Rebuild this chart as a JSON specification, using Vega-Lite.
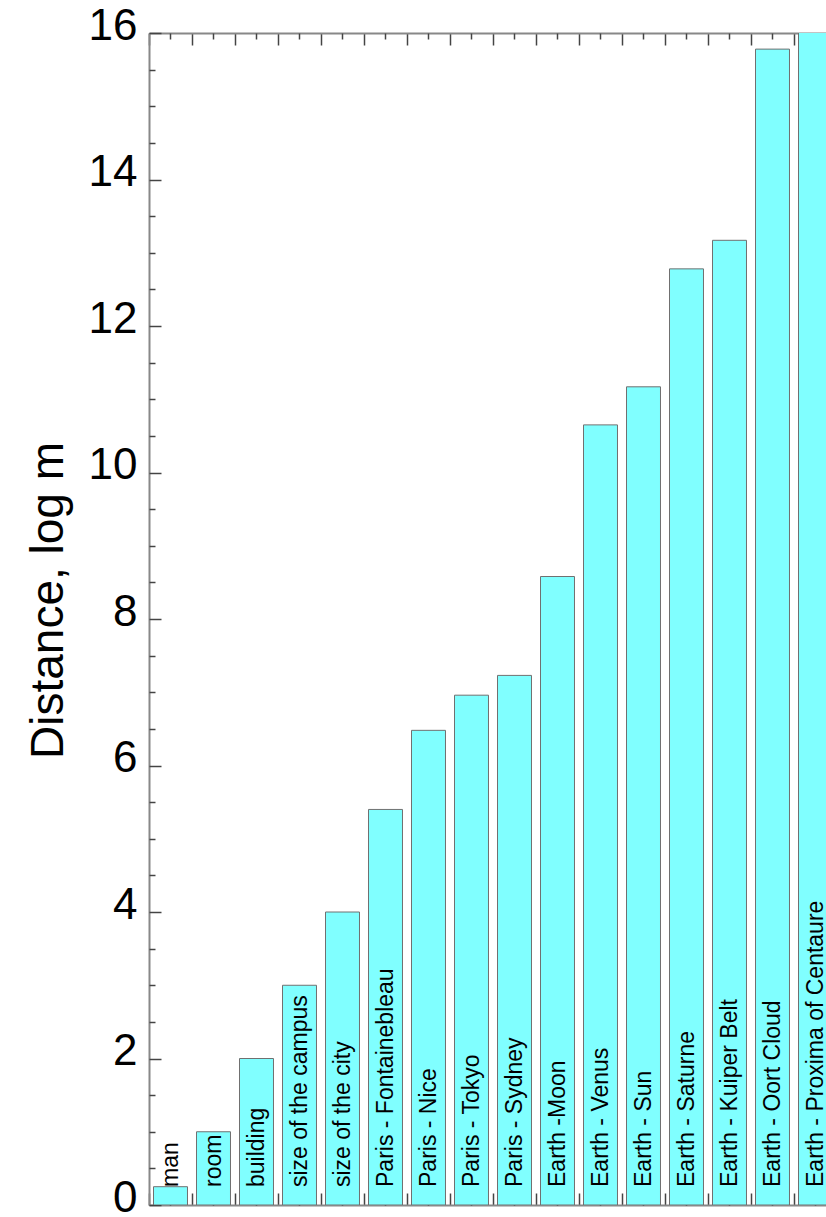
{
  "$schema": "https://vega.github.io/schema/vega-lite/v6.json",
  "width": 677,
  "height": 1172,
  "autosize": {"type": "none"},
  "padding": {"left": 149, "top": 33, "right": 0, "bottom": 12},
  "background": "white",
  "config": {
    "view": {"stroke": null},
    "font": "Liberation Sans",
    "axis": {"grid": false, "zindex": 1}
  },
  "data": {
    "values": [
      {"name": "man", "value": 0.25},
      {"name": "room", "value": 1},
      {"name": "building", "value": 2},
      {"name": "size of the campus", "value": 3},
      {"name": "size of the city", "value": 4},
      {"name": "Paris - Fontainebleau", "value": 5.4},
      {"name": "Paris - Nice", "value": 6.48},
      {"name": "Paris - Tokyo", "value": 6.96},
      {"name": "Paris - Sydney", "value": 7.23},
      {"name": "Earth -Moon", "value": 8.58},
      {"name": "Earth - Venus", "value": 10.65},
      {"name": "Earth - Sun", "value": 11.17},
      {"name": "Earth - Saturne", "value": 12.78},
      {"name": "Earth - Kuiper Belt", "value": 13.17},
      {"name": "Earth - Oort Cloud", "value": 15.78},
      {"name": "Earth - Proxima of Centaure", "value": 16.6}
    ]
  },
  "resolve": {"axis": {"x": "independent", "y": "independent"}},
  "layer": [
    {
      "mark": {"type": "bar", "width": {"band": 0.79}, "fill": "#80ffff", "stroke": "#707070", "strokeWidth": 1, "clip": true},
      "encoding": {
        "x": {"field": "name", "type": "nominal", "sort": null,
              "scale": {"range": [0, 688], "paddingInner": 0, "paddingOuter": 0},
              "axis": {"orient": "bottom", "title": null, "labels": false, "bandPosition": 0,
                       "tickSize": -12, "tickColor": "#444", "tickWidth": 1.5,
                       "domain": true, "domainColor": "#888", "domainWidth": 2}},
        "y": {"field": "value", "type": "quantitative",
              "scale": {"domain": [0, 16], "nice": false},
              "axis": {"orient": "left", "title": "Distance, log m", "titleFontSize": 46, "titleFontWeight": "normal",
                       "titleColor": "black", "titleFont": "Liberation Sans", "titlePadding": 16, "titleY": 567,
                       "values": [0, 2, 4, 6, 8, 10, 12, 14, 16], "ticks": false,
                       "labelFontSize": 44, "labelColor": "black", "labelFont": "Liberation Sans", "labelPadding": 12,
                       "labelOffset": -7, "labelFlush": false, "labelOverlap": false,
                       "domain": true, "domainColor": "#888", "domainWidth": 2}}
      }
    },
    {
      "mark": {"type": "bar", "width": {"band": 0.79}, "opacity": 0},
      "encoding": {
        "x": {"field": "name", "type": "nominal", "sort": null,
              "axis": {"orient": "bottom", "title": null, "labels": false, "bandPosition": 0.5,
                       "tickSize": -6, "tickColor": "#444", "tickWidth": 1.5, "domain": false}},
        "y": {"field": "value", "type": "quantitative",
              "axis": {"orient": "left", "title": null, "labels": false, "domain": false,
                       "values": [0, 2, 4, 6, 8, 10, 12, 14, 16],
                       "tickSize": -12, "tickColor": "#444", "tickWidth": 1.5}}
      }
    },
    {
      "mark": {"type": "bar", "width": {"band": 0.79}, "opacity": 0},
      "encoding": {
        "x": {"field": "name", "type": "nominal", "sort": null,
              "axis": {"orient": "top", "title": null, "labels": false, "bandPosition": 0,
                       "tickSize": -12, "tickColor": "#444", "tickWidth": 1.5,
                       "domain": true, "domainColor": "#888", "domainWidth": 2}},
        "y": {"field": "value", "type": "quantitative",
              "axis": {"orient": "left", "title": null, "labels": false, "domain": false,
                       "values": [0.5, 1, 1.5, 2.5, 3, 3.5, 4.5, 5, 5.5, 6.5, 7, 7.5, 8.5, 9, 9.5, 10.5, 11, 11.5, 12.5, 13, 13.5, 14.5, 15, 15.5],
                       "tickSize": -6, "tickColor": "#444", "tickWidth": 1.5}}
      }
    },
    {
      "mark": {"type": "bar", "width": {"band": 0.79}, "opacity": 0},
      "encoding": {
        "x": {"field": "name", "type": "nominal", "sort": null,
              "axis": {"orient": "top", "title": null, "labels": false, "bandPosition": 0.5,
                       "tickSize": -6, "tickColor": "#444", "tickWidth": 1.5, "domain": false}},
        "y": {"field": "value", "type": "quantitative", "axis": null}
      }
    },
    {
      "mark": {"type": "text", "angle": 270, "align": "left", "baseline": "middle", "dx": 18,
               "fontSize": 23, "font": "Liberation Sans", "color": "black"},
      "encoding": {
        "x": {"field": "name", "type": "nominal", "sort": null, "axis": null},
        "y": {"datum": 0, "type": "quantitative", "axis": null},
        "text": {"field": "name", "type": "nominal"}
      }
    }
  ]
}
